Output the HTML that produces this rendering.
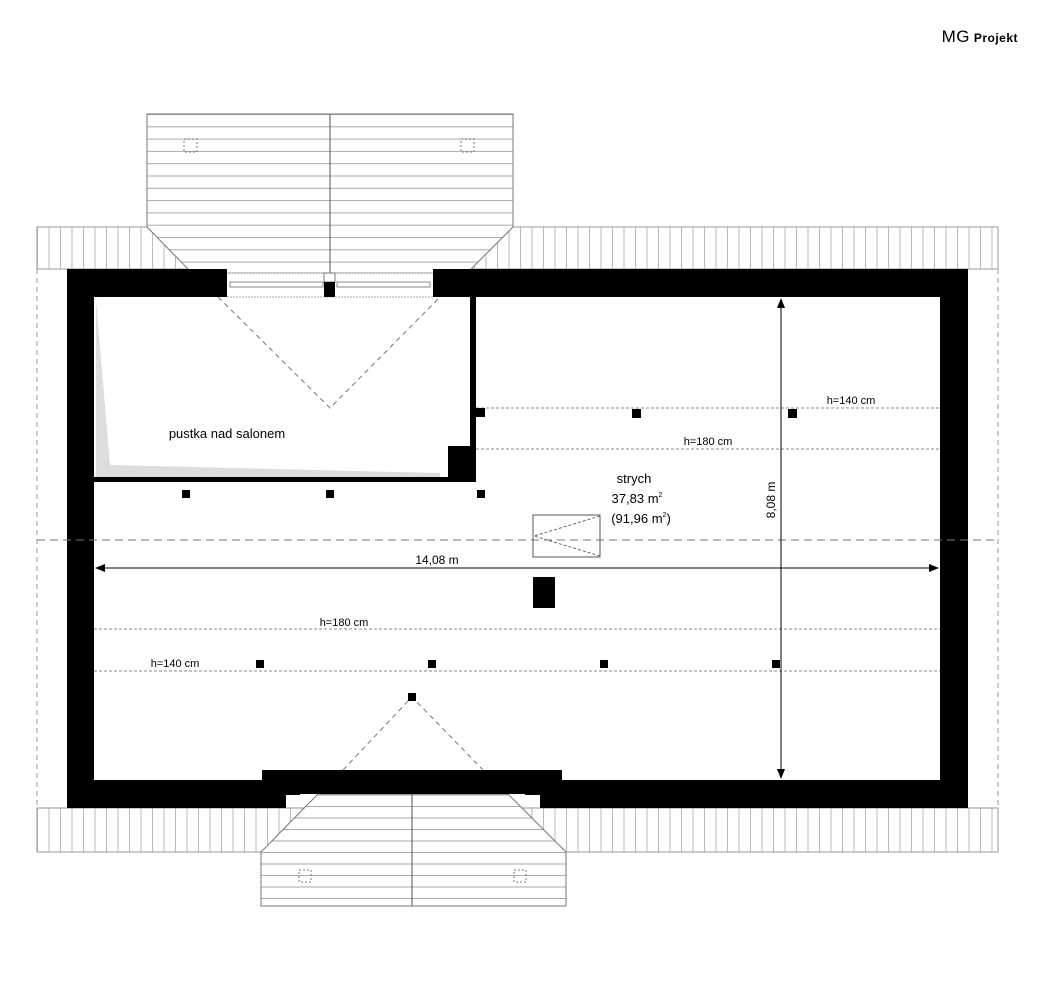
<!DOCTYPE html>
<html><head><meta charset="utf-8"><style>
html,body{margin:0;padding:0;background:#fff;}
svg{display:block;font-family:"Liberation Sans",Arial,sans-serif;}
</style></head><body>
<svg width="1050" height="1007" viewBox="0 0 1050 1007" xmlns="http://www.w3.org/2000/svg">
<defs>
<pattern id="vh" x="37" y="0" width="11.5" height="10" patternUnits="userSpaceOnUse"><line x1="0.5" y1="0" x2="0.5" y2="10" stroke="#bbb" stroke-width="1"/></pattern>
<pattern id="hh" x="0" y="114" width="10" height="12.3" patternUnits="userSpaceOnUse"><line x1="0" y1="0.5" x2="10" y2="0.5" stroke="#aaa" stroke-width="1"/></pattern>
<pattern id="hh2" x="0" y="852" width="10" height="11.5" patternUnits="userSpaceOnUse"><line x1="0" y1="0.5" x2="10" y2="0.5" stroke="#aaa" stroke-width="1"/></pattern>
<marker id="ar" markerWidth="10" markerHeight="8" refX="9" refY="4" orient="auto"><path d="M0,0 L10,4 L0,8 z" fill="#000"/></marker>
</defs>
<rect width="1050" height="1007" fill="#fff"/>
<text x="1018" y="42" font-size="12" font-weight="bold" text-anchor="end" fill="#000" letter-spacing="0.5"><tspan font-size="17" font-weight="normal">MG</tspan> Projekt</text>

<rect x="37" y="227" width="961" height="42" fill="url(#vh)" stroke="#999"/>
<rect x="37" y="808" width="961" height="44" fill="url(#vh)" stroke="#999"/>
<line x1="37" y1="269" x2="37" y2="808" stroke="#999" stroke-dasharray="5,4"/>
<line x1="998" y1="269" x2="998" y2="808" stroke="#999" stroke-dasharray="5,4"/>

<path d="M147,114 L513,114 L513,227 L467,273 L192,273 L147,227 Z" fill="#fff"/>
<path d="M147,114 L513,114 L513,227 L467,273 L192,273 L147,227 Z" fill="url(#hh)" stroke="#777"/>
<line x1="330" y1="114" x2="330" y2="273" stroke="#555"/>
<rect x="184" y="139" width="13" height="13" fill="none" stroke="#777" stroke-dasharray="2,2"/>
<rect x="461" y="139" width="13" height="13" fill="none" stroke="#777" stroke-dasharray="2,2"/>

<path d="M261,852 L261,906 L566,906 L566,852 L508,794 L318,794 Z" fill="#fff"/>
<path d="M261,852 L261,906 L566,906 L566,852 L508,794 L318,794 Z" fill="url(#hh2)" stroke="#777"/>
<line x1="412" y1="794" x2="412" y2="906" stroke="#555"/>
<rect x="299" y="870" width="12" height="12" fill="none" stroke="#777" stroke-dasharray="2,2"/>
<rect x="514" y="870" width="12" height="12" fill="none" stroke="#777" stroke-dasharray="2,2"/>

<path fill="#000" fill-rule="evenodd" d="M67,269 L227,269 L227,297 L94,297 L94,780 L262,780 L262,770 L562,770 L562,780 L940,780 L940,297 L433,297 L433,269 L968,269 L968,808 L540,808 L540,795 L525,795 L525,794 L300,794 L300,795 L286,795 L286,808 L67,808 Z"/>
<rect x="227" y="278" width="206" height="12" fill="#fff"/>
<line x1="227" y1="273" x2="433" y2="273" stroke="#aaa" stroke-dasharray="2,1"/>
<line x1="227" y1="297" x2="433" y2="297" stroke="#aaa" stroke-dasharray="2,1"/>
<rect x="230" y="282" width="93" height="5" fill="none" stroke="#888"/>
<rect x="337" y="282" width="93" height="5" fill="none" stroke="#888"/>
<rect x="324" y="273" width="11" height="9" fill="#fff" stroke="#777"/>
<rect x="324" y="282" width="11" height="15" fill="#000"/>

<path d="M96,300 L110,465 L440,473 L440,477 L96,477 Z" fill="#ddd"/>
<rect x="470" y="297" width="6" height="184" fill="#000"/>
<rect x="94" y="477" width="382" height="5" fill="#000"/>
<rect x="448" y="446" width="28" height="35" fill="#000"/>
<polyline points="218,297 330,408 440,297" fill="none" stroke="#777" stroke-dasharray="5,4"/>
<polyline points="343,770 412,697 483,770" fill="none" stroke="#777" stroke-dasharray="5,4"/>
<text x="227" y="438" font-size="13" text-anchor="middle">pustka nad salonem</text>

<g stroke="#888" stroke-dasharray="3,2">
<line x1="476" y1="408" x2="940" y2="408"/>
<line x1="476" y1="449" x2="940" y2="449"/>
<line x1="94" y1="629" x2="940" y2="629"/>
<line x1="94" y1="671" x2="940" y2="671"/>
</g>
<line x1="37" y1="540" x2="998" y2="540" stroke="#777" stroke-dasharray="8,5"/>
<g font-size="11" text-anchor="middle">
<text x="851" y="404" fill="#000">h=140 cm</text>
<text x="708" y="445">h=180 cm</text>
<text x="344" y="626">h=180 cm</text>
<text x="175" y="667">h=140 cm</text>
</g>

<g fill="#000">
<rect x="476" y="408" width="9" height="9"/>
<rect x="632" y="409" width="9" height="9"/>
<rect x="788" y="409" width="9" height="9"/>
<rect x="182" y="490" width="8" height="8"/>
<rect x="326" y="490" width="8" height="8"/>
<rect x="477" y="490" width="8" height="8"/>
<rect x="256" y="660" width="8" height="8"/>
<rect x="428" y="660" width="8" height="8"/>
<rect x="600" y="660" width="8" height="8"/>
<rect x="772" y="660" width="8" height="8"/>
<rect x="408" y="693" width="8" height="8"/>
<rect x="533" y="577" width="22" height="31"/>
</g>

<rect x="533" y="515" width="67" height="42" fill="none" stroke="#555"/>
<polyline points="600,516 534,536 600,556" fill="none" stroke="#666" stroke-dasharray="3,2"/>

<text x="634" y="483" font-size="13" text-anchor="middle">strych</text>
<text x="637" y="503" font-size="13" text-anchor="middle">37,83 m<tspan font-size="7" dy="-6">2</tspan></text>
<text x="641" y="523" font-size="13" text-anchor="middle">(91,96 m<tspan font-size="7" dy="-6">2</tspan><tspan dy="6">)</tspan></text>

<line x1="96" y1="568" x2="938" y2="568" stroke="#000" marker-end="url(#ar)"/>
<line x1="938" y1="568" x2="96" y2="568" stroke="#000" marker-end="url(#ar)"/>
<text x="437" y="564" font-size="12" text-anchor="middle">14,08 m</text>
<line x1="781" y1="299" x2="781" y2="778" stroke="#000" marker-end="url(#ar)"/>
<line x1="781" y1="778" x2="781" y2="299" stroke="#000" marker-end="url(#ar)"/>
<text x="775" y="500" font-size="12" text-anchor="middle" transform="rotate(-90 775 500)">8,08 m</text>
</svg>
</body></html>
